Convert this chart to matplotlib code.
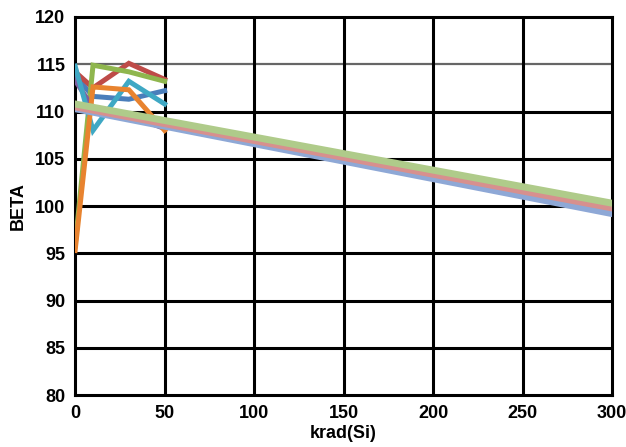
import matplotlib.pyplot as plt

# dose points (krad(Si)) and measured beta for each device
dose = [0, 10, 30, 50]
beta_blue = [113.8, 111.6, 111.3, 112.2]
beta_red = [114.2, 112.5, 115.1, 113.4]
beta_green = [95.8, 114.9, 114.2, 113.2]
beta_purple = [113.3, 110.4, 109.6, 108.2]
beta_teal = [114.8, 108.0, 113.2, 110.8]
beta_orange = [95.3, 112.6, 112.3, 108.0]

# linear trend lines to 300 krad
trend_x = [0, 300]
trend_blue = [110.3, 99.2]
trend_red = [110.5, 99.8]
trend_green = [110.8, 100.3]

plt.rcParams['font.family'] = ['Liberation Sans', 'DejaVu Sans']
plt.rcParams['font.weight'] = 'bold'

fig = plt.figure(figsize=(6.26, 4.47), dpi=100)
ax = fig.add_axes([0.12, 0.116, 0.858, 0.846])

# grid
for y in range(85, 120, 5):
    if y == 115:
        ax.axhline(y, color='#666666', lw=1.6, zorder=1)
    else:
        ax.axhline(y, color='black', lw=2.2, zorder=1)
for x in range(50, 300, 50):
    ax.axvline(x, color='black', lw=2.2, zorder=1)

series = [
    (beta_blue, '#4A7EBB'),
    (beta_red, '#BE4B48'),
    (beta_green, '#8FB64E'),
    (beta_purple, '#7D60A0'),
    (beta_teal, '#3FA8C4'),
    (beta_orange, '#E8832F'),
]
for vals, c in series:
    ax.plot(dose, vals, color=c, lw=3.6, solid_joinstyle='miter', zorder=3)

ax.plot(trend_x, trend_blue, color='#8EA8D6', lw=5, zorder=4)
ax.plot(trend_x, trend_red, color='#D7908E', lw=5, zorder=4)
ax.plot(trend_x, trend_green, color='#AFCB8A', lw=5, zorder=4)

ax.set_xlim(0, 300)
ax.set_ylim(80, 120)
ax.set_xticks(range(0, 301, 50))
ax.set_yticks(range(80, 121, 5))
ax.tick_params(length=0, labelsize=13, pad=7)
for s in ax.spines.values():
    s.set_linewidth(2.2)
    s.set_color('black')

ax.set_xlabel('krad(Si)', fontsize=13, fontweight='bold', labelpad=2)
ax.set_ylabel('BETA', fontsize=13, fontweight='bold', labelpad=6)

fig.savefig('out.png', dpi=100)
